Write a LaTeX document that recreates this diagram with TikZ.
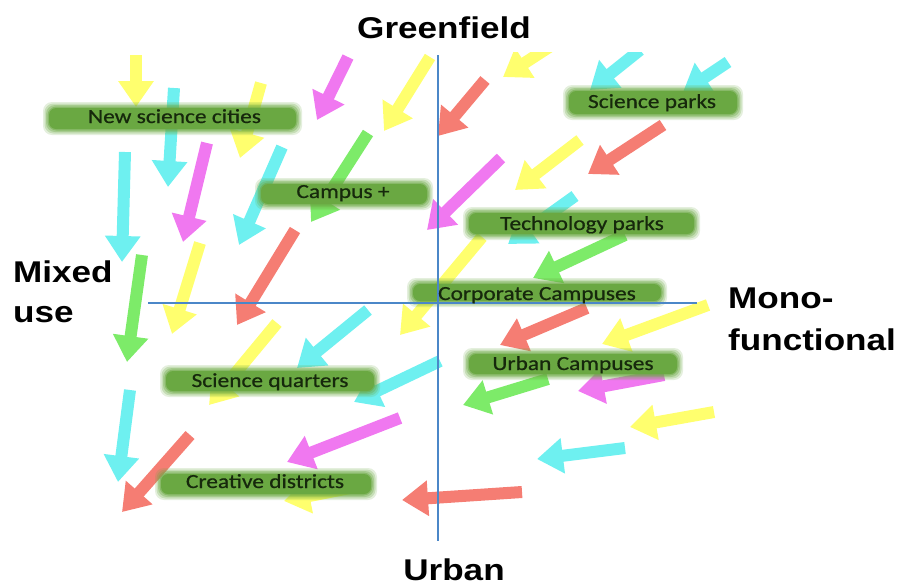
\documentclass[tikz,border=0pt]{standalone}
\usepackage{fontspec}
\usetikzlibrary{arrows.meta}
\newfontfamily\axisfont[FakeStretch=1.17]{Liberation Sans}
\newfontfamily\tagfont[FakeStretch=1.17, FakeBold=0.6]{Carlito}

\definecolor{ay}{RGB}{255,255,110}
\definecolor{ac}{RGB}{110,240,240}
\definecolor{am}{RGB}{240,120,240}
\definecolor{ag}{RGB}{125,235,105}
\definecolor{ar}{RGB}{245,125,115}
\definecolor{boxgreen}{RGB}{106,168,66}
\definecolor{tagtext}{RGB}{22,40,12}
\definecolor{axisblue}{RGB}{75,135,200}

% soft-edged green label box: name, x1, y1, x2, y2
\newcommand\glowbox[5]{%
  \foreach \d/\o in {0/0.18,1.5/0.25,3/0.35,4.5/0.5}{%
    \fill[boxgreen, fill opacity=\o, rounded corners=9pt]
      (#2+\d,#3+\d) rectangle (#4-\d,#5-\d);}
  \fill[boxgreen, rounded corners=7pt] (#2+6,#3+6) rectangle (#4-6,#5-6);
  \coordinate (#1) at ({(#2+#4)/2},{(#3+#5)/2});
}

\begin{document}
\begin{tikzpicture}[x=1pt, y=-1pt,
  fat/.style={line width=12pt, line cap=butt,
    -{Triangle[width=34pt,length=26pt]}},
  tag/.style={font=\tagfont\fontsize{20}{24}\selectfont, text=tagtext,
    inner sep=0pt, anchor=base},
  axislabel/.style={font=\axisfont\bfseries\fontsize{30}{36}\selectfont,
    text=black, inner sep=0pt, anchor=base},
  axisline/.style={draw=axisblue, line width=2.8pt}]
\useasboundingbox (0,0) rectangle (899,587);

% field of drifting arrows
\begin{scope}
\clip (0,52) rectangle (899,587);
\draw[fat, ay] (136,55)  -- (136,107);
\draw[fat, ac] (174,88)  -- (168,187);
\draw[fat, ay] (261,83)  -- (240,158);
\draw[fat, am] (348,57)  -- (317,120);
\draw[fat, ay] (430,57)  -- (384,131);
\draw[fat, ac] (125,152) -- (122,262);
\draw[fat, am] (207,143) -- (183,242);
\draw[fat, ac] (282,147) -- (239,245);
\draw[fat, ag] (368,133) -- (311,222);
\draw[fat, ag] (142,255) -- (127,362);
\draw[fat, ay] (200,243) -- (172,334);
\draw[fat, ar] (295,230) -- (237,325);
\draw[fat, ac] (130,390) -- (118,482);
\draw[fat, ar] (190,435) -- (122,512);
\draw[fat, ay] (277,323) -- (209,405);
\draw[fat, ac] (368,310) -- (297,368);
\draw[fat, ac] (440,361) -- (354,402);
\draw[fat, am] (400,418) -- (287,462);
\draw[fat, ay] (370,484) -- (284,501);
\draw[fat, ar] (522,492) -- (402,500);
\draw[fat, ay] (560,40)  -- (503,77);
\draw[fat, ac] (640,50)  -- (590,90);
\draw[fat, ac] (728,62)  -- (683,92);
\draw[fat, ar] (485,80)  -- (438,136);
\draw[fat, ar] (663,125) -- (588,174);
\draw[fat, ay] (580,140) -- (515,190);
\draw[fat, am] (501,158) -- (427,230);
\draw[fat, ac] (575,196) -- (508,244);
\draw[fat, ay] (482,237) -- (400,335);
\draw[fat, ag] (625,235) -- (533,278);
\draw[fat, ar] (587,308) -- (500,345);
\draw[fat, ay] (708,305) -- (602,344);
\draw[fat, ag] (548,379) -- (463,405);
\draw[fat, am] (664,375) -- (578,391);
\draw[fat, ay] (714,412) -- (630,427);
\draw[fat, ac] (625,448) -- (537,459);
\end{scope}

% label boxes
\glowbox{nsc}{43}{102}{302}{135}
\glowbox{cplus}{255}{178}{433}{210}
\glowbox{spk}{563}{85}{743}{120}
\glowbox{tpk}{463}{207}{700}{240}
\glowbox{corp}{407}{278}{667}{307}
\glowbox{ucamp}{463}{348}{683}{380}
\glowbox{sq}{160}{365}{380}{397}
\glowbox{cd}{155}{468}{377}{500}

% axes
\coordinate (west)  at (148,303);
\coordinate (east)  at (697,303);
\coordinate (north) at (438,55);
\coordinate (south) at (438,541);
\draw[axisline] (west) -- (east);
\draw[axisline] (north) -- (south);

% box texts
\node[tag] (nsc-t)   at (174.5,123) {New science cities};
\node[tag] (cplus-t) at (343,198)   {Campus +};
\node[tag] (spk-t)   at (652,108)   {Science parks};
\node[tag] (tpk-t)   at (582,230)   {Technology parks};
\node[tag] (corp-t)  at (537,300)   {Corporate Campuses};
\node[tag] (ucamp-t) at (573,370)   {Urban Campuses};
\node[tag] (sq-t)    at (270,387)   {Science quarters};
\node[tag] (cd-t)    at (265,488)   {Creative districts};

% axis captions
\node[axislabel] (green) at (444,38) {Greenfield};
\node[axislabel] (urban) at (454,580) {Urban};
\node[axislabel, anchor=base west] (mixed) at (13,282) {Mixed};
\node[axislabel, anchor=base west] (use)   at (13,322) {use};
\node[axislabel, anchor=base west] (mono)  at (728,308) {Mono-};
\node[axislabel, anchor=base west] (func)  at (728,350) {functional};
\end{tikzpicture}
\end{document}
